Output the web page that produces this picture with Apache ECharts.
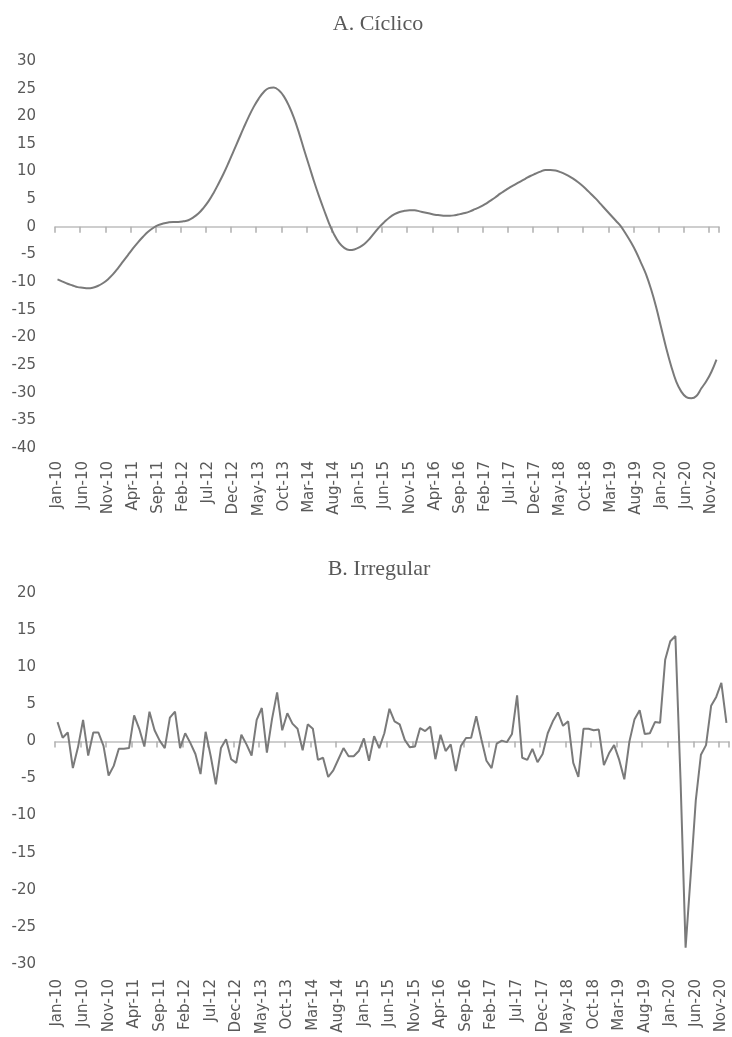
<!DOCTYPE html>
<html>
<head>
<meta charset="utf-8">
<script src="https://cdn.jsdelivr.net/npm/echarts@6/dist/echarts.min.js"></script>
<style>
html,body{margin:0;padding:0;background:#fff;}
#chart{width:732px;height:1037px;}
</style>
</head>
<body>
<div id="chart"></div>
<script>
// Month labels Jan-10 ... Dec-20
const monthNames = ['Jan','Feb','Mar','Apr','May','Jun','Jul','Aug','Sep','Oct','Nov','Dec'];
const years = ['10','11','12','13','14','15','16','17','18','19','20'];
const categories = [];
years.forEach(function (y) { monthNames.forEach(function (m) { categories.push(m + '-' + y); }); });

const titleA = 'A. Cíclico';
const titleB = 'B. Irregular';

// Panel A: cyclical component (monthly)
const ciclico = [
  -9.5, -9.9, -10.3, -10.6, -10.9, -11.0, -11.1, -11.0, -10.7, -10.2,
  -9.5, -8.6, -7.5, -6.3, -5.1, -3.9, -2.8, -1.8, -0.9, -0.2,
  0.3, 0.6, 0.8, 0.9, 0.9, 1.0, 1.2, 1.7, 2.4, 3.4,
  4.6, 6.1, 7.8, 9.6, 11.6, 13.7, 15.8, 17.9, 19.9, 21.7,
  23.2, 24.4, 25.1, 25.2, 24.7, 23.6, 21.9, 19.7, 17.0, 14.0,
  11.1, 8.2, 5.5, 3.0, 0.6, -1.4, -2.9, -3.8, -4.2, -4.1,
  -3.7, -3.1, -2.2, -1.1, 0.0, 0.9, 1.7, 2.3, 2.7, 2.9,
  3.0, 3.0, 2.8, 2.6, 2.4, 2.2, 2.1, 2.0, 2.0, 2.1,
  2.3, 2.5, 2.8, 3.2, 3.6, 4.1, 4.7, 5.3, 6.0, 6.6,
  7.2, 7.7, 8.2, 8.7, 9.2, 9.6, 10.0, 10.3, 10.3, 10.2,
  9.9, 9.5, 9.0, 8.4, 7.7, 6.9, 6.0, 5.1, 4.1, 3.1,
  2.1, 1.1, 0.1, -1.3, -2.8, -4.5, -6.5, -8.6, -11.3, -14.5,
  -18.2, -21.9, -25.2, -28.0, -29.8, -30.8, -31.0, -30.6, -29.2, -27.9,
  -26.2, -24.0
];

// Panel B: irregular component (monthly)
const irregular = [
  2.6, 0.5, 1.2, -3.6, -0.8, 2.9, -1.9, 1.2, 1.2, -0.6,
  -4.6, -3.3, -1.0, -1.0, -0.9, 3.5, 1.7, -0.7, 4.0, 1.5,
  0.1, -0.9, 3.2, 4.0, -0.9, 1.1, -0.2, -1.7, -4.4, 1.3,
  -2.0, -5.8, -0.9, 0.3, -2.4, -2.9, 0.9, -0.4, -1.9, 2.9,
  4.5, -1.5, 3.0, 6.6, 1.5, 3.8, 2.4, 1.7, -1.2, 2.3,
  1.7, -2.5, -2.2, -4.8, -3.9, -2.4, -0.9, -2.0, -2.0, -1.3,
  0.4, -2.6, 0.7, -0.9, 1.1, 4.4, 2.7, 2.3, 0.2, -0.8,
  -0.7, 1.8, 1.4, 2.0, -2.4, 0.9, -1.3, -0.4, -4.0, -0.6,
  0.45, 0.5, 3.4, 0.3, -2.6, -3.6, -0.3, 0.1, -0.1, 1.0,
  6.2, -2.2, -2.5, -1.0, -2.8, -1.7, 1.1, 2.7, 3.9, 2.1,
  2.7, -2.9, -4.8, 1.7, 1.7, 1.5, 1.6, -3.2, -1.6, -0.5,
  -2.5, -5.1, 0.0, 3.0, 4.2, 1.0, 1.1, 2.6, 2.5, 11.0,
  13.5, 14.2, -5.0, -27.8, -18.0, -7.9, -1.8, -0.5, 4.8, 6.0,
  7.9, 2.5
];

const yTicksA = { min: -40, max: 30, interval: 5 };
const yTicksB = { min: -30, max: 20, interval: 5 };

const textColor = '#595959';
const axisColor = '#bfbfbf';
const tickColor = '#b0b0b0';
const lineColor = '#7a7a7a';
const labelFont = { color: textColor, fontFamily: 'DejaVu Sans', fontSize: 15 };

const rectA = { left: 55, right: 13, top: 61, height: 387, outerBoundsMode: 'none', containLabel: false };
const rectB = { left: 55, right: 3, top: 593, height: 371, outerBoundsMode: 'none', containLabel: false };

// axis on the zero line with tick marks only
function zeroAxis(grid) {
  return {
    gridIndex: grid, type: 'category', data: categories, boundaryGap: true, position: 'bottom',
    axisLine: { show: true, onZero: true, lineStyle: { color: axisColor, width: 1.5 } },
    axisTick: { show: true, interval: 4, length: 6, lineStyle: { color: tickColor, width: 1.5 } },
    axisLabel: { show: false },
    splitLine: { show: false }
  };
}
// axis at the bottom of the plot with the month labels only (own overlapping grid)
function labelAxis(grid, margin) {
  return {
    gridIndex: grid, type: 'category', data: categories, boundaryGap: true, position: 'bottom',
    axisLine: { show: false, onZero: false },
    axisTick: { show: false },
    axisLabel: Object.assign({ interval: 4, rotate: 90, margin: margin }, labelFont),
    splitLine: { show: false }
  };
}
function valueAxis(grid, t, showLabels) {
  return {
    gridIndex: grid, type: 'value', min: t.min, max: t.max, interval: t.interval,
    axisLine: { show: false, onZero: false }, axisTick: { show: false }, splitLine: { show: false },
    axisLabel: Object.assign({ show: showLabels, margin: 19 }, labelFont)
  };
}

const chart = echarts.init(document.getElementById('chart'), null, { renderer: 'canvas' });
chart.setOption({
  animation: false,
  backgroundColor: '#ffffff',
  title: [
    { text: titleA, left: 373, top: 8, textAlign: 'center',
      textStyle: { fontFamily: 'Liberation Serif', fontSize: 22, fontWeight: 'normal', color: textColor } },
    { text: titleB, left: 374, top: 553, textAlign: 'center',
      textStyle: { fontFamily: 'Liberation Serif', fontSize: 22, fontWeight: 'normal', color: textColor } }
  ],
  grid: [rectA, rectB, Object.assign({}, rectA), Object.assign({}, rectB)],
  xAxis: [zeroAxis(0), zeroAxis(1), labelAxis(2, 13), labelAxis(3, 15)],
  yAxis: [valueAxis(0, yTicksA, true), valueAxis(1, yTicksB, true), valueAxis(2, yTicksA, false), valueAxis(3, yTicksB, false)],
  series: [
    { type: 'line', xAxisIndex: 0, yAxisIndex: 0, data: ciclico, smooth: 0.4, showSymbol: false,
      lineStyle: { color: lineColor, width: 2 } },
    { type: 'line', xAxisIndex: 1, yAxisIndex: 1, data: irregular, smooth: false, showSymbol: false,
      lineStyle: { color: lineColor, width: 2 } }
  ]
});
</script>
</body>
</html>
